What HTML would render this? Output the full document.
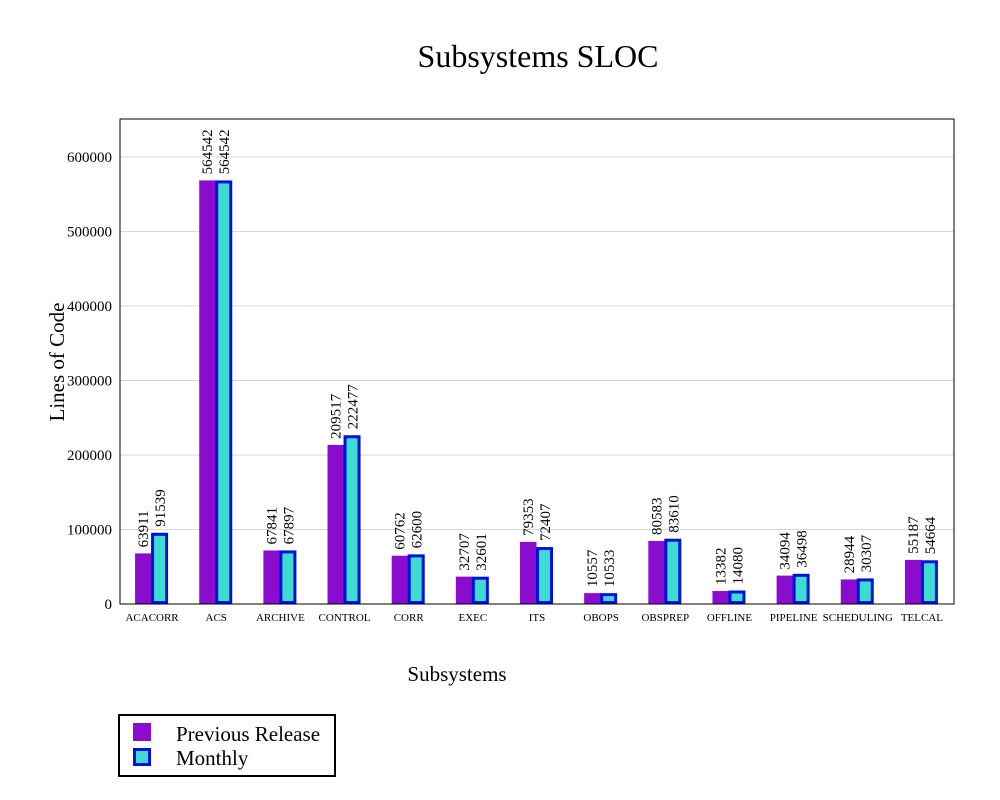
<!DOCTYPE html>
<html><head><meta charset="utf-8"><style>
body{margin:0;background:#fff;}
svg text{font-family:"Liberation Serif",serif;fill:#000;}
</style></head><body>
<svg width="1000" height="795" xmlns="http://www.w3.org/2000/svg" id="chart">
<text x="538" y="67" font-size="32" text-anchor="middle">Subsystems SLOC</text>
<g id="grid"></g>
<g id="bars"></g>
<rect x="120" y="119" width="834" height="485" fill="none" stroke="#000" stroke-width="1"/>
<g id="yticks"></g>
<g id="xticks"></g>
<text x="64" y="362" font-size="21" text-anchor="middle" transform="rotate(-90 64 362)">Lines of Code</text>
<text x="457" y="681" font-size="21" text-anchor="middle">Subsystems</text>
<g>
<rect x="119" y="715" width="216" height="61" fill="#fff" stroke="#000" stroke-width="2"/>
<rect x="133" y="723" width="18" height="18" fill="#8a0ccc"/>
<text x="176" y="741" font-size="21">Previous Release</text>
<rect x="134.5" y="749.5" width="15" height="15" fill="#3ddbd0" stroke="#0010e0" stroke-width="3"/>
<text x="176" y="765" font-size="21">Monthly</text>
</g>
</svg>
<script>
const categories=["ACACORR","ACS","ARCHIVE","CONTROL","CORR","EXEC","ITS","OBOPS","OBSPREP","OFFLINE","PIPELINE","SCHEDULING","TELCAL"];
const previousRelease=[63911,564542,67841,209517,60762,32707,79353,10557,80583,13382,34094,28944,55187];
const monthly=[91539,564542,67897,222477,62600,32601,72407,10533,83610,14080,36498,30307,54664];
const yTicks=[0,100000,200000,300000,400000,500000,600000];
const NS="http://www.w3.org/2000/svg";
const x0=120,x1=954,yBase=604,yTop=157;
function yScale(v){return yBase-(v/600000)*(yBase-yTop);}
function xCenter(i){return x0+(i+0.5)*(x1-x0)/categories.length;}
function mk(tag,attrs,parent){const e=document.createElementNS(NS,tag);for(const k in attrs)e.setAttribute(k,attrs[k]);parent.appendChild(e);return e;}
const grid=document.getElementById('grid'),yt=document.getElementById('yticks'),xt=document.getElementById('xticks'),bars=document.getElementById('bars');
yTicks.forEach(v=>{
  const y=yScale(v);
  if(v>0){const g=mk('line',{x1:x0,x2:x1,y1:y,y2:y,stroke:'#d8d8d8','stroke-width':1},grid);
  
  }
  const t=mk('text',{x:112,y:y+5,'font-size':15,'text-anchor':'end'},yt);
  t.textContent=v;
  
  
});
categories.forEach((c,i)=>{
  const cx=xCenter(i);
  const t=mk('text',{x:cx,y:621,'font-size':11,'text-anchor':'middle'},xt);
  t.textContent=c;
  
  
  const py=yScale(previousRelease[i])-3;
  const r=mk('rect',{x:cx-17,y:py,width:16.5,height:yBase-py,fill:'#8a0ccc'},bars);
  
  
  const my=yScale(monthly[i])-3;
  const b=mk('rect',{x:cx+0.5,y:my+1.5,width:14,height:Math.max(0,yBase-my-3),fill:'#3ddbd0',stroke:'#0010e0','stroke-width':3},bars);
  
  
  const l1=mk('text',{x:0,y:0,'font-size':15,transform:`translate(${cx-4},${py-6}) rotate(-90)`},bars);
  l1.textContent=previousRelease[i];
  
  
  const l2=mk('text',{x:0,y:0,'font-size':15,transform:`translate(${cx+13},${my-6}) rotate(-90)`},bars);
  l2.textContent=monthly[i];
  
  
});
</script>
</body></html>
